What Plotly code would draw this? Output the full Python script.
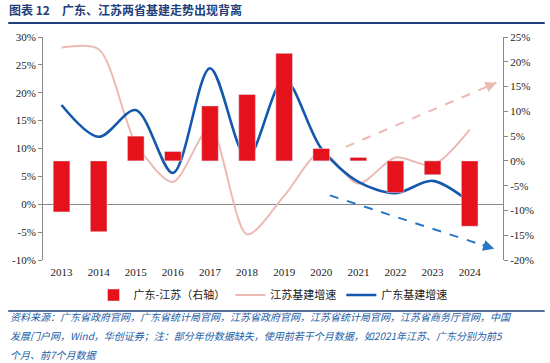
import plotly.graph_objects as go

years = ["2013", "2014", "2015", "2016", "2017", "2018", "2019", "2020", "2021", "2022", "2023", "2024"]
diff_gd_js = [-10.3, -14.3, 5.0, 1.9, 11.1, 13.4, 21.7, 2.5, 0.7, -6.4, -2.8, -13.2]
js_growth = [28.1, 27.8, 11.0, 4.0, 13.7, -5.4, 1.5, 9.4, 3.7, 8.4, 7.0, 13.4]
gd_growth = [17.8, 12.1, 16.9, 5.6, 24.4, 8.3, 22.4, 10.0, 4.0, 2.0, 4.2, 0.4]

left_ticks = [-10, -5, 0, 5, 10, 15, 20, 25, 30]
right_ticks = [-20, -15, -10, -5, 0, 5, 10, 15, 20, 25]

source_lines = [
    "资料来源：广东省政府官网，广东省统计局官网，江苏省政府官网，江苏省统计局官网，江苏省商务厅官网，中国",
    "发展门户网，Wind，华创证券；注：部分年份数据缺失，使用前若干个月数据，如2021年江苏、广东分别为前5",
    "个月、前7个月数据",
]

RED = "#E5121C"
PINK = "#EDB9B3"
BLUE = "#1358AE"
BLUE_ARROW = "#2A76C6"
TXT_BLUE = "#2160A8"
SERIF = "Liberation Serif, Times New Roman, serif"
CJK = "Noto Sans CJK SC"

fig = go.Figure()
fig.add_trace(go.Bar(x=years, y=diff_gd_js, name="广东-江苏（右轴）", marker_color=RED,
                     width=0.45, yaxis="y2"))
fig.add_trace(go.Scatter(x=years, y=js_growth, name="江苏基建增速", mode="lines",
                         line=dict(color=PINK, width=2, shape="spline", smoothing=0.8)))
fig.add_trace(go.Scatter(x=years, y=gd_growth, name="广东基建增速", mode="lines",
                         line=dict(color=BLUE, width=2.6, shape="spline", smoothing=0.9)))

# dashed trend arrows (decorative)
arrows = [
    (7.66, 10.3, 11.72, 21.8, PINK),
    (7.23, 1.6, 11.66, -8.0, BLUE_ARROW),
]
for x0, y0, x1, y1, c in arrows:
    fig.add_shape(type="line", xref="x", yref="y", x0=x0, y0=y0, x1=x1, y1=y1,
                  line=dict(color=c, width=2, dash="dash"))
    fig.add_annotation(x=x1, y=y1, ax=x1 - (x1 - x0) * 0.08, ay=y1 - (y1 - y0) * 0.08,
                       xref="x", yref="y", axref="x", ayref="y", text="", showarrow=True,
                       arrowhead=2, arrowsize=1.1, arrowwidth=2, arrowcolor=c)

fig.update_layout(
    width=550, height=363,
    margin=dict(l=40, r=47, t=37, b=103),
    plot_bgcolor="white", paper_bgcolor="white",
    showlegend=True,
    legend=dict(orientation="h", x=0.5, xanchor="center", y=-(295 - 260) / 223, yanchor="middle",
                font=dict(family=CJK, size=11, color="#222"),
                traceorder="normal", tracegroupgap=0),
    xaxis=dict(type="category", showline=False, ticks="", showgrid=False,
               tickfont=dict(family=SERIF, size=11, color="#222"), ticklabelstandoff=4),
    yaxis=dict(range=[-10, 30], tickvals=left_ticks, ticktext=[f"{v}%" for v in left_ticks],
               showgrid=False, showline=True, linecolor="#888", linewidth=1, ticks="outside",
               ticklen=4, tickcolor="#888", zeroline=True, zerolinecolor="#888", zerolinewidth=1,
               tickfont=dict(family=SERIF, size=11, color="#222")),
    yaxis2=dict(range=[-20, 25], tickvals=right_ticks, ticktext=[f"{v}%" for v in right_ticks],
                overlaying="y", side="right", showgrid=False, showline=True, linecolor="#888",
                linewidth=1, ticks="outside", ticklen=4, tickcolor="#888", zeroline=False,
                tickfont=dict(family=SERIF, size=11, color="#222")),
)

# title and rules
fig.add_annotation(xref="paper", yref="paper", x=-36/463, y=1 + 28/223, xanchor="left", yanchor="middle",
                   text="<b>图表 12　广东、江苏两省基建走势出现背离</b>", showarrow=False,
                   font=dict(family=CJK, size=12, color="#1F3F7A"))
fig.add_shape(type="line", xref="paper", yref="paper", x0=-35/463, x1=1 + 42/463,
              y0=1 + 14/223, y1=1 + 14/223, line=dict(color="#1F3F7A", width=2))
fig.add_shape(type="line", xref="paper", yref="paper", x0=-35/463, x1=1 + 42/463,
              y0=-(311 - 260)/223, y1=-(311 - 260)/223, line=dict(color="#1F3F7A", width=1.5))

for i, line in enumerate(source_lines):
    yc = 316 + i * 19
    fig.add_annotation(xref="paper", yref="paper", x=-35/463, y=-(yc - 260)/223,
                       xanchor="left", yanchor="middle", align="left",
                       text="<i>" + line + "</i>", showarrow=False,
                       font=dict(family=CJK, size=10, color=TXT_BLUE))

fig.write_html("out.html", post_script="document.body.style.margin='0';",
               config={"displayModeBar": False})
